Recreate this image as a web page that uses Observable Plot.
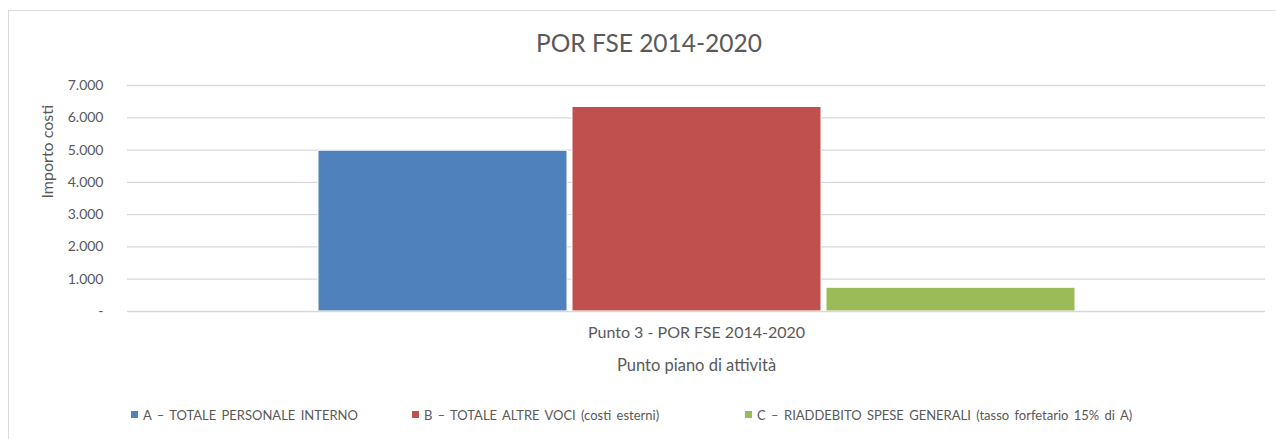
<!DOCTYPE html>
<html><head><meta charset="utf-8">
<script src="https://cdn.jsdelivr.net/npm/d3@7"></script>
<script src="https://cdn.jsdelivr.net/npm/@observablehq/plot@0.6"></script>
<style>
body{margin:0;background:#fff;font-family:Lato,sans-serif;color:#595959;width:1276px;height:439px;overflow:hidden;position:relative}
#frame{position:absolute;left:8px;top:10px;width:1400px;height:600px;border-left:1px solid #d9d9d9;border-top:1px solid #d9d9d9;pointer-events:none}
#title{position:relative;height:62px;box-sizing:border-box;padding-top:28px;padding-left:22px;text-align:center;font-size:24.5px;line-height:30px;color:#595959}
#chart svg{display:block}
#legend{position:relative;height:59px;box-sizing:border-box;padding-top:10px;padding-left:131px;display:flex;justify-content:flex-start;font-size:13px;line-height:18px;word-spacing:2px;color:#595959}
.item{display:flex;align-items:center;white-space:nowrap}
.sw{width:7px;height:7px;margin-right:5px}
</style></head>
<body>
<div id="frame"></div>
<div id="title"></div>
<div id="chart"></div>
<div id="legend"></div>
<script>
const chartTitle = "POR FSE 2014-2020";
const categories = ["Punto 3 - POR FSE 2014-2020"];
const series = ["A – TOTALE PERSONALE INTERNO", "B – TOTALE ALTRE VOCI (costi esterni)", "C – RIADDEBITO SPESE GENERALI (tasso forfetario 15% di A)"];
const values = [4980, 6335, 735];
const colors = ["#4f81bd", "#c0504d", "#9bbb59"];
const yTicks = [0, 1000, 2000, 3000, 4000, 5000, 6000, 7000];
const yLabel = "Importo costi";
const xLabel = "Punto piano di attività";
const legendGaps = [0, 54, 86];

const data = series.map((s, i) => ({cat: categories[0], series: s, value: values[i]}));
const fmt = d => d === 0 ? "-" : d3.format(",")(d).replace(/,/g, ".");

document.getElementById("title").textContent = chartTitle;

const plot = Plot.plot({
  width: 1276, height: 318,
  marginTop: 23, marginBottom: 69, marginLeft: 127, marginRight: 11,
  style: {fontFamily: "Lato, sans-serif", color: "#595959", background: "transparent"},
  x: {domain: series, paddingInner: 0.02, paddingOuter: 0.745, axis: null},
  y: {domain: [0, 7000], axis: null},
  color: {domain: series, range: colors},
  marks: [
    Plot.gridY(yTicks.filter(d => d > 0), {stroke: "#d9d9d9", strokeOpacity: 1, strokeWidth: 1.3}),
    Plot.axisY(yTicks, {tickSize: 0, tickPadding: 24, tickFormat: fmt, fontSize: 14, fill: "#595959", label: null}),
    Plot.text([yLabel], {frameAnchor: "left", dx: -80, rotate: -90, fontSize: 16, fill: "#595959"}),
    Plot.barY(data, {x: "series", y: "value", fill: "series", stroke: "white", strokeWidth: 1}),
    Plot.ruleY([0], {stroke: "#d9d9d9", strokeWidth: 1.3}),
    Plot.text(categories, {frameAnchor: "bottom", dy: 26, fontSize: 16, fill: "#595959"}),
    Plot.text([xLabel], {frameAnchor: "bottom", dy: 59, fontSize: 16.5, fill: "#595959"})
  ]
});
document.getElementById("chart").appendChild(plot);

const leg = document.getElementById("legend");
series.forEach((s, i) => {
  const it = document.createElement("div"); it.className = "item";
  it.style.marginLeft = legendGaps[i] + "px";
  const sw = document.createElement("span"); sw.className = "sw"; sw.style.background = colors[i];
  const t = document.createElement("span"); t.textContent = s;
  it.appendChild(sw); it.appendChild(t); leg.appendChild(it);
});
</script>
</body></html>
